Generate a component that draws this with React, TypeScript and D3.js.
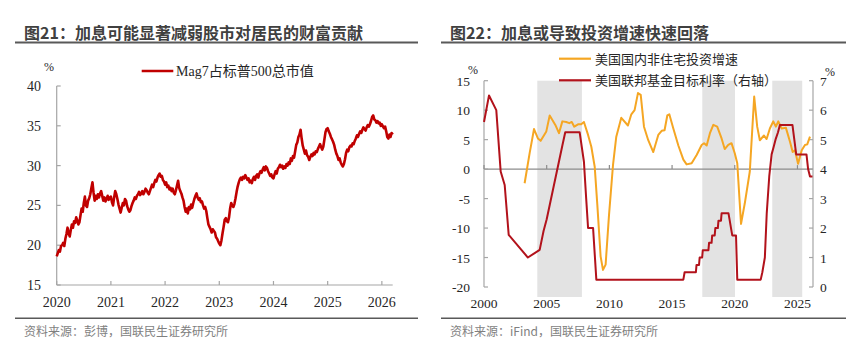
import React from 'react';
import * as d3 from 'd3';

// ---------- Figure 21 data: Mag7 share of S&P500 market cap (%) ----------
const mag7Start = 2020.0;
const mag7Step = 0.02; // regular observation spacing (years)
const mag7Share = [
  // 2020
  18.6, 19.0, 19.4, 19.2, 19.9, 20.0, 20.3, 19.9, 20.8, 21.4,
  22.2, 21.5, 21.1, 21.9, 22.6, 22.2, 23.0, 22.8, 23.5, 23.1,
  22.6, 22.9, 23.8, 24.6, 24.2, 25.3, 26.1, 25.0, 24.8, 25.6,
  25.9, 26.4, 27.2, 27.9, 26.6, 25.6, 26.2, 25.8, 26.4, 26.0,
  26.5, 26.8, 26.2, 25.6, 26.0, 25.5, 25.8, 26.2, 25.7, 26.0,
  // 2021
  26.1, 25.4, 25.0, 26.0, 26.8, 26.4, 25.8, 25.1, 24.6, 24.1,
  24.7, 25.3, 25.0, 25.8, 25.6, 24.9, 24.5, 24.2, 24.4, 24.9,
  25.3, 25.6, 26.0, 25.8, 26.2, 26.4, 26.7, 26.3, 26.5, 26.8,
  26.4, 26.7, 27.1, 26.9, 26.6, 26.4, 26.8, 27.2, 27.6, 27.3,
  27.8, 28.2, 28.0, 28.5, 28.8, 29.0, 28.6, 28.7, 28.2, 28.0,
  // 2022
  27.6, 27.9, 27.3, 27.5, 27.0, 27.2, 26.8, 27.1, 26.6, 26.4,
  26.9, 27.5, 28.1, 27.2, 26.8, 26.5, 26.0, 25.6, 24.8, 24.2,
  24.6, 24.0, 24.8, 24.5, 25.1, 24.7, 25.3, 25.8, 26.2, 26.5,
  26.0, 25.7, 25.9, 25.4, 25.5, 25.0, 24.6, 24.8, 24.3, 23.4,
  22.6, 22.3, 22.0, 21.6, 22.0, 21.8, 21.6, 21.0, 20.8, 20.5,
  // 2023
  20.2, 20.0, 20.6, 21.5, 22.3, 23.2, 23.4, 23.0, 22.9, 23.5,
  24.6, 25.3, 25.0, 24.8, 25.2, 25.9, 26.7, 27.4, 27.9, 28.3,
  28.5, 28.2, 28.6, 28.4, 28.8, 28.5, 28.2, 28.4, 27.9, 28.1,
  27.8, 28.3, 28.6, 28.2, 28.7, 28.9, 28.5, 29.0, 29.3, 29.1,
  29.5, 29.8, 29.4, 29.9, 29.7, 29.3, 29.0, 28.7, 28.9, 28.5,
  // 2024
  28.4, 28.9, 29.3, 29.0, 29.6, 29.8, 30.1, 29.8, 30.0, 29.6,
  29.9, 29.7, 30.2, 30.0, 30.4, 30.2, 30.9, 30.6, 31.2, 31.0,
  31.8, 32.6, 32.9, 33.6, 33.9, 34.5, 33.4, 32.5, 32.0, 31.5,
  31.9, 31.3, 31.1, 30.7, 31.1, 31.4, 31.2, 31.6, 31.4, 31.8,
  31.7, 32.1, 32.4, 32.7, 32.3, 32.0, 32.4, 33.3, 34.2, 34.6,
  // 2025
  34.7, 34.3, 34.0, 33.6, 33.3, 33.0, 32.6, 32.0, 31.5, 31.2,
  30.7, 30.9, 30.4, 30.1, 29.9, 30.2, 30.8, 31.6, 32.0, 31.8,
  32.3, 32.5, 32.4, 32.8, 32.7, 33.1, 33.4, 33.8, 33.6, 34.0,
  34.3, 34.1, 34.5, 34.8, 34.6, 34.4, 34.8, 35.1, 34.9, 35.2,
  35.6, 36.1, 36.3, 35.8, 35.7, 35.4, 35.6, 35.3, 35.4, 35.0,
  // 2026
  35.2, 34.9, 34.7, 34.9, 34.3, 33.6, 33.4, 33.9, 33.6, 34.1, 33.9,
];
const leftYears = [2020, 2021, 2022, 2023, 2024, 2025, 2026];
const leftYTicks = [15, 20, 25, 30, 35, 40];

// ---------- Figure 22 data ----------
const investDates = [
  2003.24, 2003.64, 2003.99, 2004.3, 2004.52, 2004.97, 2005.24, 2005.69, 2005.98, 2006.25,
  2006.56, 2006.8, 2007.0, 2007.2, 2007.5, 2007.75, 2007.97, 2008.3, 2008.56, 2008.83,
  2009.04, 2009.3, 2009.49, 2009.7, 2009.97, 2010.29, 2010.55, 2010.95, 2011.48, 2011.75,
  2012.01, 2012.28, 2012.5, 2012.76, 2013.1, 2013.5, 2013.9, 2014.17, 2014.4, 2014.62,
  2014.78, 2015.1, 2015.5, 2015.9, 2016.16, 2016.56, 2016.96, 2017.36, 2017.55, 2017.76,
  2018.02, 2018.29, 2018.6, 2018.95, 2019.2, 2019.48, 2019.74, 2020.0, 2020.2, 2020.5,
  2020.8, 2021.2, 2021.55, 2021.79, 2022.0, 2022.33, 2022.54, 2022.8, 2023.07, 2023.28,
  2023.47, 2023.74, 2024.08, 2024.4, 2024.62, 2024.8, 2025.05, 2025.34, 2025.6, 2025.78,
  2026.0,
];
const investGrowth = [
  -2.4, 2.7, 6.8, 5.2, 4.8, 6.4, 9.1, 7.5, 6.1, 8.1,
  8.0, 7.8, 8.0, 7.2, 7.6, 7.6, 8.0, 5.8, 3.8, 0.4,
  -6.1, -14.8, -17.1, -16.2, -7.8, 0.7, 5.5, 8.7, 7.4, 9.3,
  10.0, 12.9, 12.6, 7.2, 4.9, 2.9, 5.8, 6.5, 6.6, 9.1,
  9.3, 6.9, 4.0, 1.6, 0.8, 1.0, 2.4, 4.1, 4.4, 4.0,
  6.1, 7.5, 7.2, 5.2, 3.4, 4.1, 4.4, 2.7, 1.0, -9.3,
  -5.8, -0.4, 12.3, 7.2, 4.9, 5.7, 5.1, 6.9, 8.1, 7.2,
  8.1, 6.9, 7.0, 4.7, 2.9, 3.2, 0.9, 3.2, 4.1, 4.2,
  5.5,
];
const fedDates = [
  2000.0, 2000.4, 2000.98, 2001.33, 2001.65, 2001.97, 2003.5, 2004.44, 2004.75, 2005.0,
  2005.25, 2005.5, 2005.75, 2006.0, 2006.25, 2006.48, 2007.63, 2007.97, 2008.15, 2008.3,
  2008.7, 2008.96, 2015.9, 2016.0, 2016.9, 2016.95, 2017.15, 2017.2, 2017.4, 2017.45,
  2017.9, 2017.95, 2018.15, 2018.2, 2018.4, 2018.45, 2018.65, 2018.7, 2018.9, 2018.95,
  2019.5, 2019.6, 2019.7, 2019.8, 2020.1, 2020.2, 2022.07, 2022.2, 2022.4, 2022.55,
  2022.75, 2022.94, 2023.1, 2023.25, 2023.45, 2023.6, 2024.6, 2024.75, 2024.9, 2025.72,
  2025.85, 2026.0, 2026.2,
];
const fedRate = [
  5.6, 6.5, 6.0, 3.92, 3.46, 1.77, 1.0, 1.26, 1.9, 2.3,
  2.8, 3.3, 3.8, 4.3, 4.8, 5.25, 5.25, 4.25, 3.0, 2.0,
  2.0, 0.25, 0.25, 0.5, 0.5, 0.75, 0.75, 1.0, 1.0, 1.25,
  1.25, 1.5, 1.5, 1.75, 1.75, 2.0, 2.0, 2.25, 2.25, 2.5,
  2.5, 2.25, 2.0, 1.75, 1.75, 0.25, 0.25, 0.5, 1.0, 2.5,
  3.75, 4.5, 4.75, 5.0, 5.25, 5.5, 5.5, 5.0, 4.5, 4.5,
  4.0, 3.75, 3.75,
];
const hikePeriods = [
  [2004.25, 2007.81],
  [2017.41, 2020.02],
  [2022.99, 2025.38],
];
const rightYears = [2000, 2005, 2010, 2015, 2020, 2025];
const rightLeftTicks = [-20, -15, -10, -5, 0, 5, 10, 15];
const rightRightTicks = [0, 1, 2, 3, 4, 5, 6, 7];

const SERIF = "'Liberation Serif', 'Times New Roman', 'Noto Sans CJK SC', serif";
const SANS = "'Noto Sans CJK SC', 'Microsoft YaHei', sans-serif";
const AXIS = '#a6a6a6';
const LABEL = '#262626';
const RED = '#c00000';
const DARKRED = '#b2121b';
const ORANGE = '#f5a623';

function LeftChart() {
  const x = d3.scaleLinear().domain([2020, 2026.2]).range([56.7, 392.7]);
  const y = d3.scaleLinear().domain([15, 40]).range([285, 86]);
  const pts: [number, number][] = mag7Share.map((v, i) => [mag7Start + i * mag7Step, v]);
  const line = d3.line<[number, number]>().x((d) => x(d[0])).y((d) => y(d[1]));
  return (
    <g>
      <text x={24} y={39} fontFamily={SANS} fontWeight={700} fontSize={16} fill="#404040">
        图21：加息可能显著减弱股市对居民的财富贡献
      </text>
      <line x1={15} x2={418} y1={42.5} y2={42.5} stroke="#595959" strokeWidth={2} />
      <text x={49} y={71} fontFamily={SERIF} fontSize={12} fill={LABEL} textAnchor="middle">%</text>
      {/* legend */}
      <line x1={141.7} x2={173.3} y1={71} y2={71} stroke={RED} strokeWidth={2.5} />
      <text x={176} y={76} fontFamily={SERIF} fontSize={14} fill={LABEL}>Mag7占标普500总市值</text>
      {/* axes */}
      <line x1={x(2020)} x2={x(2020)} y1={y(40)} y2={y(15)} stroke={AXIS} strokeWidth={1.2} />
      <line x1={x(2020)} x2={x(2026.2)} y1={y(15)} y2={y(15)} stroke={AXIS} strokeWidth={1.2} />
      {leftYTicks.map((t) => (
        <g key={t}>
          <line x1={x(2020)} x2={x(2020) + 4} y1={y(t)} y2={y(t)} stroke={AXIS} strokeWidth={1.2} />
          <text x={41} y={y(t) + 5} fontFamily={SERIF} fontSize={14} fill={LABEL} textAnchor="end">{t}</text>
        </g>
      ))}
      {leftYears.map((yr) => (
        <g key={yr}>
          <line x1={x(yr)} x2={x(yr)} y1={y(15)} y2={y(15) - 4} stroke={AXIS} strokeWidth={1.2} />
          <text x={x(yr)} y={306.5} fontFamily={SERIF} fontSize={14} fill={LABEL} textAnchor="middle">{yr}</text>
        </g>
      ))}
      <path d={line(pts) || ''} fill="none" stroke={RED} strokeWidth={2.6} strokeLinejoin="round" />
      <line x1={15} x2={418} y1={318.3} y2={318.3} stroke="#595959" strokeWidth={1.5} />
      <text x={24} y={336} fontFamily={SANS} fontSize={12} fill="#7f7f7f">资料来源：彭博，国联民生证券研究所</text>
    </g>
  );
}

function RightChart() {
  const x = d3.scaleLinear().domain([2000, 2026.24]).range([484, 813]);
  const yL = d3.scaleLinear().domain([-20, 15]).range([287, 80.7]);
  const yR = d3.scaleLinear().domain([0, 7]).range([287, 80.7]);
  const inv: [number, number][] = investDates.map((d, i) => [d, investGrowth[i]]);
  const fed: [number, number][] = fedDates.map((d, i) => [d, fedRate[i]]);
  const lineL = d3.line<[number, number]>().x((d) => x(d[0])).y((d) => yL(d[1]));
  const lineR = d3.line<[number, number]>().x((d) => x(d[0])).y((d) => yR(d[1]));
  const shadeTop = yL(15);
  const shadeBottom = yL(-20) + 10;
  return (
    <g>
      <text x={450} y={39} fontFamily={SANS} fontWeight={700} fontSize={16} fill="#404040">
        图22：加息或导致投资增速快速回落
      </text>
      <line x1={441} x2={846} y1={42.5} y2={42.5} stroke="#595959" strokeWidth={2} />
      {hikePeriods.map(([a, b], i) => (
        <rect key={i} x={x(a)} y={shadeTop} width={x(b) - x(a)} height={shadeBottom - shadeTop} fill="#e3e3e3" />
      ))}
      <text x={473} y={74} fontFamily={SERIF} fontSize={12} fill={LABEL} textAnchor="middle">%</text>
      <text x={830} y={76} fontFamily={SERIF} fontSize={12} fill={LABEL} textAnchor="middle">%</text>
      {/* axes */}
      <line x1={x(2000)} x2={x(2000)} y1={yL(15)} y2={yL(-20)} stroke={AXIS} strokeWidth={1.2} />
      <line x1={x(2026.24)} x2={x(2026.24)} y1={yR(7)} y2={yR(0)} stroke={AXIS} strokeWidth={1.2} />
      <line x1={x(2000)} x2={x(2026.24)} y1={yL(0)} y2={yL(0)} stroke="#8c8c8c" strokeWidth={1.2} />
      {rightLeftTicks.map((t) => (
        <g key={t}>
          <line x1={x(2000)} x2={x(2000) + 4} y1={yL(t)} y2={yL(t)} stroke={AXIS} strokeWidth={1.2} />
          <text x={470} y={yL(t) + 5} fontFamily={SERIF} fontSize={13.5} fill={LABEL} textAnchor="end">{t}</text>
        </g>
      ))}
      {rightRightTicks.map((t) => (
        <g key={t}>
          <line x1={x(2026.24)} x2={x(2026.24) - 4} y1={yR(t)} y2={yR(t)} stroke={AXIS} strokeWidth={1.2} />
          <text x={820} y={yR(t) + 5} fontFamily={SERIF} fontSize={13.5} fill={LABEL}>{t}</text>
        </g>
      ))}
      {rightYears.map((yr) => (
        <g key={yr}>
          <line x1={x(yr)} x2={x(yr)} y1={yL(0)} y2={yL(0) - 4} stroke="#8c8c8c" strokeWidth={1.2} />
          <text x={x(yr)} y={308} fontFamily={SERIF} fontSize={13.5} fill={LABEL} textAnchor="middle">{yr}</text>
        </g>
      ))}
      <path d={lineL(inv) || ''} fill="none" stroke={ORANGE} strokeWidth={2} strokeLinejoin="round" />
      <path d={lineR(fed) || ''} fill="none" stroke={DARKRED} strokeWidth={2} strokeLinejoin="round" />
      {/* legend */}
      <line x1={559} x2={591} y1={58.7} y2={58.7} stroke={ORANGE} strokeWidth={2.2} />
      <text x={595} y={63.5} fontFamily={SERIF} fontSize={13} fill={LABEL}>美国国内非住宅投资增速</text>
      <line x1={559} x2={591} y1={80.3} y2={80.3} stroke={DARKRED} strokeWidth={2.2} />
      <text x={595} y={85} fontFamily={SERIF} fontSize={13} fill={LABEL}>美国联邦基金目标利率（右轴）</text>
      <line x1={441} x2={846} y1={318.3} y2={318.3} stroke="#595959" strokeWidth={1.5} />
      <text x={450} y={336} fontFamily={SANS} fontSize={12} fill="#7f7f7f">资料来源：iFind，国联民生证券研究所</text>
    </g>
  );
}

export default function App() {
  return (
    <svg
      width={866}
      height={359}
      viewBox="0 0 866 359"
      style={{ position: 'absolute', left: 0, top: 0, display: 'block', background: '#ffffff' }}
    >
      <rect x={0} y={0} width={866} height={359} fill="#ffffff" />
      <LeftChart />
      <RightChart />
    </svg>
  );
}
